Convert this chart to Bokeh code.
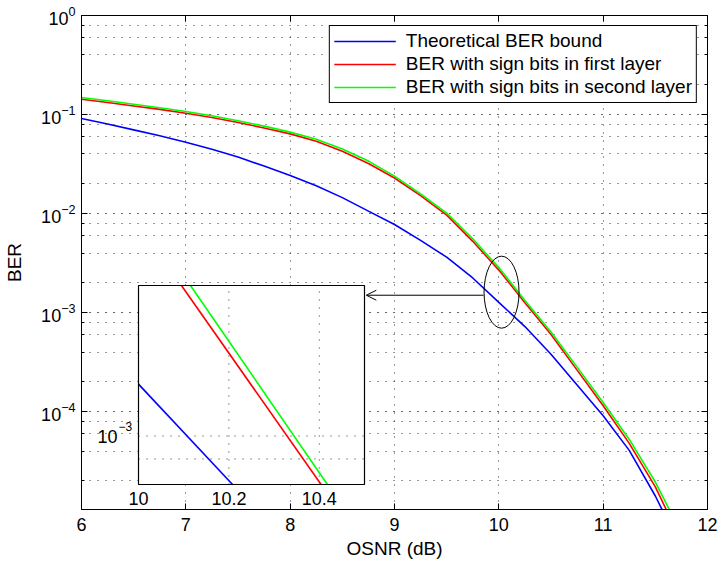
import math
from bokeh.plotting import figure
from bokeh.models import (Range1d, LogScale, LinearScale, LogAxis, LinearAxis, LogTicker,
                          FixedTicker, Grid, Arrow, OpenHead, CustomJSTickFormatter)
from bokeh.core.properties import value
from bokeh.embed import file_html
from bokeh.resources import INLINE

FONT = "Liberation Sans"

# ---------------- data ----------------
osnr_theory = [6.0, 6.25, 6.5, 6.75, 7.0, 7.25, 7.5, 7.75, 8.0, 8.25, 8.5, 8.75,
               9.0, 9.25, 9.5, 9.75, 10.0, 10.25, 10.5, 10.75, 11.0, 11.25, 11.5, 11.57]
ber_theory = [0.0912, 0.0804, 0.0700, 0.0610, 0.0525, 0.0447, 0.0372, 0.0302, 0.0243,
              0.0191, 0.0145, 0.0106, 0.00776, 0.00537, 0.00363, 0.00224, 0.00127,
              7.24e-4, 3.80e-4, 1.86e-4, 9.12e-5, 4.07e-5, 1.41e-5, 1.00e-5]

osnr_first = [6.0, 6.25, 6.5, 6.75, 7.0, 7.25, 7.5, 7.75, 8.0, 8.25, 8.5, 8.75,
              9.0, 9.25, 9.5, 9.75, 10.0, 10.25, 10.5, 10.75, 11.0, 11.25, 11.5, 11.61]
ber_first = [0.1429, 0.1324, 0.1222, 0.1127, 0.1030, 0.0933, 0.0832, 0.0733, 0.0638,
             0.0537, 0.0427, 0.0320, 0.0229, 0.0152, 0.00966, 0.00525, 0.00269,
             0.00126, 6.03e-4, 2.63e-4, 1.15e-4, 4.79e-5, 1.74e-5, 1.00e-5]

osnr_second = [6.0, 6.25, 6.5, 6.75, 7.0, 7.25, 7.5, 7.75, 8.0, 8.25, 8.5, 8.75,
               9.0, 9.25, 9.5, 9.75, 10.0, 10.25, 10.5, 10.75, 11.0, 11.25, 11.5, 11.64]
ber_second = [0.1486, 0.1377, 0.1271, 0.1172, 0.1072, 0.0971, 0.0867, 0.0764, 0.0665,
              0.0562, 0.0449, 0.0339, 0.0239, 0.0158, 0.0101, 0.00556, 0.00285,
              0.00133, 6.38e-4, 2.82e-4, 1.24e-4, 5.25e-5, 1.95e-5, 1.00e-5]

series_labels = ["Theoretical BER bound",
                 "BER with sign bits in first layer",
                 "BER with sign bits in second layer"]

x_ticks = [6, 7, 8, 9, 10, 11, 12]
x_limits = [6, 12]
y_limits = [1.03e-5, 1.0]

# inset (zoom) data
inset_xlim = [10.0, 10.5]
inset_ylim = [8e-4, 2e-3]
inset_x_ticks = [10.0, 10.2, 10.4]
inset_x_tick_labels = ["10", "10.2", "10.4"]
inset_x_grid = [10.2, 10.4]
inset_y_grid = [9e-4, 1e-3]
inset_y_label_value = [1e-3]

inset_osnr_theory = [10.0, 10.208]
inset_ber_theory = [1.27e-3, 8.0e-4]
inset_osnr_first = [10.095, 10.404]
inset_ber_first = [2.0e-3, 8.0e-4]
inset_osnr_second = [10.115, 10.418]
inset_ber_second = [2.0e-3, 8.0e-4]

# annotation positions (ellipse around the zoomed region, arrow to inset)
ellipse_center = (10.026, 1.61e-3)
arrow_from = (9.853, 1.50e-3)
arrow_to = (8.73, 1.50e-3)

# ---------------- layout (pixels) ----------------
W, H = 718, 563
FL, FR, FT, FB = 81, 707, 15, 509          # frame edges
IL, IR, IT, IB = 138, 364, 285, 484        # inset box edges

# The default (unnamed) ranges are used for the inset: chosen so that the inset
# limits land exactly on the inset box.  The main chart uses the "main" ranges.
xs = (inset_xlim[1] - inset_xlim[0]) / (IR - IL)
inset_x_range = Range1d(inset_xlim[0] - (IL - FL) * xs, inset_xlim[1] + (FR - IR) * xs)
ks = math.log10(inset_ylim[1] / inset_ylim[0]) / (IB - IT)
inset_y_range = Range1d(inset_ylim[0] / 10 ** ((FB - IB) * ks),
                        inset_ylim[1] * 10 ** ((IT - FT) * ks))

p = figure(width=W, height=H, output_backend="svg", toolbar_location=None,
           x_range=inset_x_range, y_range=inset_y_range,
           x_axis_type="linear", y_axis_type="log",
           x_axis_location=None, y_axis_location=None,
           min_border_left=FL, min_border_right=W - FR,
           min_border_top=FT, min_border_bottom=H - FB)
# remove the automatic grids of the default (inset) ranges
for g in list(p.grid):
    g.visible = False
p.extra_x_ranges = {"main": Range1d(*x_limits)}
p.extra_x_scales = {"main": LinearScale()}
p.extra_y_ranges = {"main": Range1d(*y_limits)}
p.extra_y_scales = {"main": LogScale()}
p.outline_line_color = "black"
p.outline_line_width = 1
p.background_fill_color = "white"
p.border_fill_color = "white"

empty_fmt = "return ''"

def style_axis(ax, labels=True):
    ax.axis_line_color = "black"
    ax.axis_line_width = 1
    ax.major_tick_line_color = "black"
    ax.major_tick_in = 6
    ax.major_tick_out = 0
    ax.minor_tick_in = 3
    ax.minor_tick_out = 0
    ax.major_label_text_font = FONT
    ax.major_label_text_font_size = "18px" if labels else "0px"
    ax.major_label_text_color = "black"
    ax.axis_label_text_font = FONT
    ax.axis_label_text_font_size = "19px"
    ax.axis_label_text_font_style = "normal"
    ax.axis_label_text_color = "black"

xticker = FixedTicker(ticks=x_ticks)
yticker = LogTicker(desired_num_ticks=6)

xaxis = LinearAxis(x_range_name="main", ticker=xticker, axis_label="OSNR (dB)")
style_axis(xaxis)
xaxis.minor_tick_line_color = None
xaxis.major_label_standoff = 8
xaxis.axis_label_standoff = 4
p.add_layout(xaxis, "below")

xtop = LinearAxis(x_range_name="main", ticker=xticker,
                  formatter=CustomJSTickFormatter(code=empty_fmt))
style_axis(xtop, labels=False)
xtop.minor_tick_line_color = None
xtop.major_label_standoff = 0
p.add_layout(xtop, "above")

yaxis = LogAxis(y_range_name="main", ticker=yticker, axis_label="BER")
style_axis(yaxis)
yaxis.minor_tick_line_color = "black"
yaxis.major_label_standoff = 6
yaxis.axis_label_standoff = 13
p.add_layout(yaxis, "left")

yright = LogAxis(y_range_name="main", ticker=yticker,
                 formatter=CustomJSTickFormatter(code=empty_fmt))
style_axis(yright, labels=False)
yright.minor_tick_line_color = "black"
yright.major_label_standoff = 0
p.add_layout(yright, "right")

GRID_COLOR = "#333333"
GRID_DASH = "1 7"
xgrid = Grid(dimension=0, ticker=xticker, x_range_name="main", y_range_name="main",
             grid_line_color=GRID_COLOR, grid_line_dash=GRID_DASH, grid_line_width=1)
p.add_layout(xgrid)
ygrid = Grid(dimension=1, ticker=yticker, x_range_name="main", y_range_name="main",
             grid_line_color=GRID_COLOR, grid_line_dash=GRID_DASH, grid_line_width=1,
             minor_grid_line_color=GRID_COLOR, minor_grid_line_dash=GRID_DASH,
             minor_grid_line_width=1)
p.add_layout(ygrid)

colors = ["#0000ff", "#ff0000", "#00ff00"]
LW = 1.6
p.line(osnr_theory, ber_theory, x_range_name="main", y_range_name="main",
       line_color=colors[0], line_width=LW, legend_label=series_labels[0])
p.line(osnr_first, ber_first, x_range_name="main", y_range_name="main",
       line_color=colors[1], line_width=LW, legend_label=series_labels[1])
p.line(osnr_second, ber_second, x_range_name="main", y_range_name="main",
       line_color=colors[2], line_width=LW, legend_label=series_labels[2])

p.ellipse(x=[ellipse_center[0]], y=[ellipse_center[1]], width=35, height=72,
          width_units="screen", height_units="screen", fill_color=None,
          line_color="black", line_width=1, x_range_name="main", y_range_name="main")

p.add_layout(Arrow(end=OpenHead(size=10, line_color="black", line_width=1),
                   x_start=arrow_from[0], y_start=arrow_from[1],
                   x_end=arrow_to[0], y_end=arrow_to[1],
                   x_range_name="main", y_range_name="main",
                   line_color="black", line_width=1))

# legend
lg = p.legend[0]
lg.location = "top_right"
lg.margin = 10
lg.padding = 4
lg.spacing = 1
lg.glyph_width = 62
lg.glyph_height = 22
lg.label_height = 22
lg.label_standoff = 10
lg.label_text_font = FONT
lg.label_text_font_size = "19px"
lg.label_text_color = "black"
lg.border_line_color = "black"
lg.border_line_width = 1
lg.border_line_alpha = 1
lg.background_fill_color = "white"
lg.background_fill_alpha = 1

# ---------------- inset (drawn on the default ranges) ----------------
p.quad(left=[inset_xlim[0]], right=[inset_xlim[1]], bottom=[inset_ylim[0]],
       top=[inset_ylim[1]], fill_color="white", line_color=None)
p.segment(x0=inset_x_grid, x1=inset_x_grid, y0=[inset_ylim[0]] * len(inset_x_grid),
          y1=[inset_ylim[1]] * len(inset_x_grid), line_color=GRID_COLOR,
          line_dash=GRID_DASH, line_width=1)
p.segment(x0=[inset_xlim[0]] * len(inset_y_grid), x1=[inset_xlim[1]] * len(inset_y_grid),
          y0=inset_y_grid, y1=inset_y_grid, line_color=GRID_COLOR,
          line_dash=GRID_DASH, line_width=1)
p.line(inset_osnr_theory, inset_ber_theory, line_color=colors[0], line_width=LW)
p.line(inset_osnr_first, inset_ber_first, line_color=colors[1], line_width=LW)
p.line(inset_osnr_second, inset_ber_second, line_color=colors[2], line_width=LW)
p.quad(left=[inset_xlim[0]], right=[inset_xlim[1]], bottom=[inset_ylim[0]],
       top=[inset_ylim[1]], fill_color=None, line_color="black", line_width=1.2)

p.text(x=inset_x_ticks, y=[inset_ylim[0]] * len(inset_x_ticks), text=inset_x_tick_labels,
       text_align="center", text_baseline="top", y_offset=7,
       text_font=value(FONT), text_font_size="18px", text_color="black")
p.text(x=[inset_xlim[0]], y=inset_y_label_value, text=["10"], text_align="right",
       text_baseline="middle", x_offset=-21, text_font=value(FONT),
       text_font_size="18px", text_color="black")
p.text(x=[inset_xlim[0]], y=inset_y_label_value, text=["\u22123"], text_align="left",
       text_baseline="middle", x_offset=-20, y_offset=-10, text_font=value(FONT),
       text_font_size="12px", text_color="black")

open("out.html", "w").write(file_html(p, INLINE))
